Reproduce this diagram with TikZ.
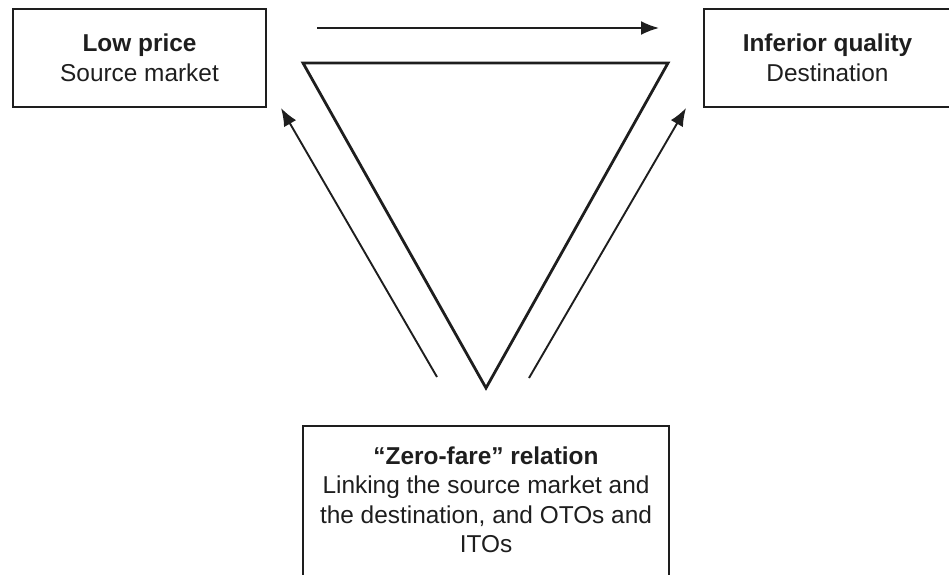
\documentclass[tikz,border=0pt]{standalone}
\usepackage{fontspec}
\setmainfont{Liberation Sans}
\usetikzlibrary{arrows.meta}
\definecolor{ink}{HTML}{1E1E1E}
\begin{document}
\begin{tikzpicture}[x=1pt,y=-1pt,
  frame/.style={draw=ink, line width=1.8pt, fill=none, inner sep=0pt},
  label/.style={text=ink, align=center, font=\fontsize{24.4}{29.5}\selectfont},
  flow/.style={draw=ink, line width=1.9pt, -{Latex[length=18pt,width=14pt]}},
  wedge/.style={draw=ink, line width=2.8pt, line join=miter}]
  \useasboundingbox (0,0) rectangle (949,574);

  % the three boxes
  \node[frame, label, minimum width=253, minimum height=98] (price) at (139.5,58)
    {\textbf{Low price}\\Source market};
  \node[frame, label, minimum width=247, minimum height=98] (quality) at (827.5,58)
    {\textbf{Inferior quality}\\Destination};
  \node[frame, minimum width=366, minimum height=200, anchor=north] (zfbox) at (486,425) {};
  \node[label] (zf) at (486,500)
    {\textbf{“Zero-fare” relation}\\Linking the source market and\\the destination, and OTOs and\\ITOs};

  % inverted triangle
  \coordinate (tl) at (303,63);
  \coordinate (tr) at (668,63);
  \coordinate (tb) at (486,388);
  \draw[wedge] (tl) -- (tr) -- (tb) -- cycle;

  % arrows
  \coordinate (ha) at (317,28);
  \coordinate (hb) at (659,28);
  \coordinate (la) at (437,377);
  \coordinate (lb) at (281,108);
  \coordinate (ra) at (529,378);
  \coordinate (rb) at (686,108);
  \draw[flow] (ha) -- (hb);
  \draw[flow] (la) -- (lb);
  \draw[flow] (ra) -- (rb);
\end{tikzpicture}
\end{document}
